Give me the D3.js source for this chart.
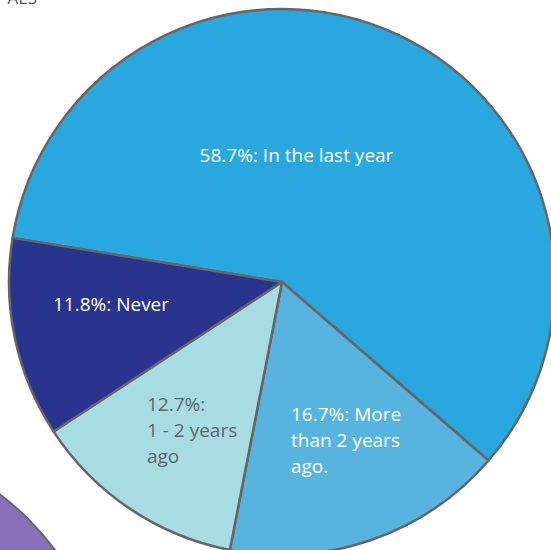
<!DOCTYPE html>
<html>
<head>
<meta charset="utf-8">
<script src="https://cdn.jsdelivr.net/npm/d3@7"></script>
<style>
  body { margin: 0; background: #fff; }
  svg { display: block; }
</style>
</head>
<body>
<div id="chart"></div>
<script>
// data
var categories = ["In the last year", "More than 2 years ago.", "1 - 2 years ago", "Never"]
var values = [58.7, 16.7, 12.7, 11.8]
var labelLines = [
  ["58.7%: In the last year"],
  ["16.7%: More", "than 2 years", "ago."],
  ["12.7%:", "1 - 2 years", "ago"],
  ["11.8%: Never"]
]

var colors = ["#29a8df", "#56b4df", "#a8dce3", "#29348f"]
var textColors = ["#ffffff", "#ffffff", "#5b676d", "#ffffff"]

// label anchor offsets from centre, and anchoring
var labelOffsets = [[14.5, -120], [9, 139], [-135, 129], [-171, 29]]
var labelAnchor = ["middle", "start", "start", "middle"]

var width = 551, height = 550
var cx = 282, cy = 282
var radius = 273
var lineH = 26

var svg = d3.select("#chart")
  .append("svg")
  .attr("width", width)
  .attr("height", height)

// the neighbouring (purple) pie, mostly off the page
svg.append("circle")
  .attr("cx", -168).attr("cy", 716)
  .attr("r", 278)
  .style("fill", "#8a70ba")
  .style("stroke", "#666")
  .style("stroke-width", 2)

// cut-off title text at the top
svg.append("text")
  .attr("x", 37).attr("y", 4)
  .attr("text-anchor", "end")
  .style("font-family", "'Open Sans', sans-serif")
  .style("font-size", "17px")
  .style("fill", "#555")
  .text("AES")

var g = svg.append("g")
  .attr("transform", "translate(" + cx + "," + cy + ")")

var startDeg = -80.7
var pie = d3.pie()
  .sort(null)
  .startAngle(startDeg * Math.PI / 180)
  .endAngle((startDeg + 360) * Math.PI / 180)

var arc = d3.arc().innerRadius(0).outerRadius(radius)

g.selectAll("path.slice")
  .data(pie(values))
  .enter()
  .append("path")
    .attr("class", "slice")
    .attr("d", arc)
    .style("fill", function(d, i){ return colors[i] })
    .style("stroke", "#666")
    .style("stroke-width", 2.5)
    .style("stroke-linejoin", "round")

// labels
var labels = g.selectAll("text.lab")
  .data(labelLines)
  .enter()
  .append("text")
    .attr("class", "lab")
    .attr("x", function(d, i){ return labelOffsets[i][0] })
    .attr("y", function(d, i){ return labelOffsets[i][1] })
    .attr("text-anchor", function(d, i){ return labelAnchor[i] })
    .style("font-family", "'Open Sans', sans-serif")
    .style("font-size", "19px")
    .style("fill", function(d, i){ return textColors[i] })

labels.each(function(lines, i){
  var t = d3.select(this)
  lines.forEach(function(line, j){
    t.append("tspan")
      .attr("x", labelOffsets[i][0])
      .attr("dy", j == 0 ? 0 : lineH)
      .text(line)
  })
})
</script>
</body>
</html>
